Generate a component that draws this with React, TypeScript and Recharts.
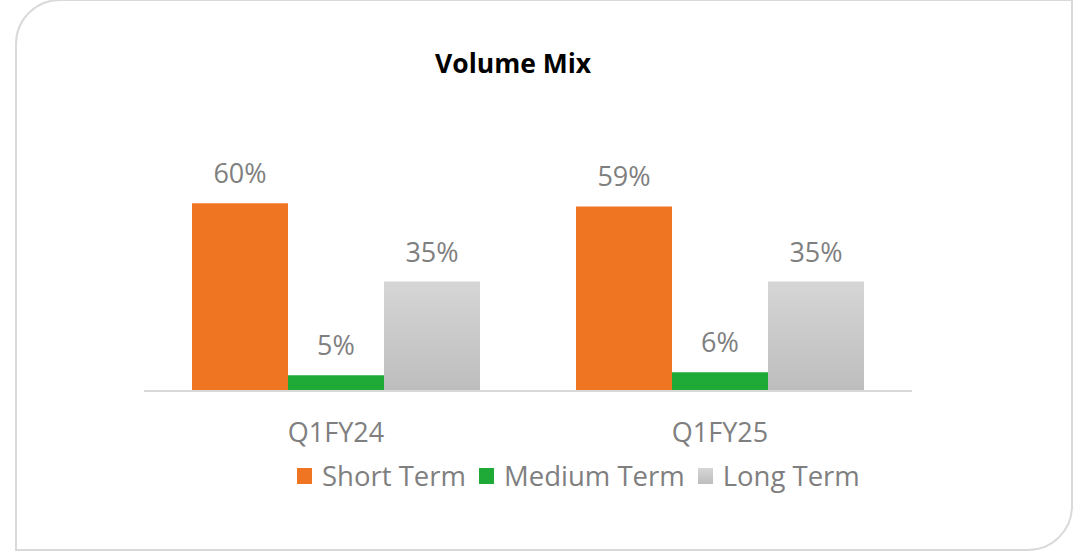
import { Bar, BarChart, LabelList, XAxis, YAxis } from "recharts";

const quarters = ["Q1FY24", "Q1FY25"];
const shortTerm = [60, 59];
const mediumTerm = [5, 6];
const longTerm = [35, 35];

const seriesNames = ["Short Term", "Medium Term", "Long Term"];

const chartData = quarters.map((q, i) => ({
  quarter: q,
  short: shortTerm[i],
  medium: mediumTerm[i],
  long: longTerm[i],
}));

const FONT = "'Open Sans', sans-serif";
const TEXT_GRAY = "#7f7f7f";

function VolumeLegend() {
  const swatches = [
    { name: seriesNames[0], bg: "#f07522" },
    { name: seriesNames[1], bg: "#1faa38" },
    { name: seriesNames[2], bg: "linear-gradient(#d6d6d6, #bdbdbd)" },
  ];
  return (
    <div style={{ display: "flex", alignItems: "center", fontFamily: FONT, fontSize: 27.5, color: TEXT_GRAY, whiteSpace: "nowrap" }}>
      {swatches.map((s) => (
        <span key={s.name} style={{ display: "inline-flex", alignItems: "center", marginRight: 13 }}>
          <span style={{ display: "inline-block", width: 15, height: 16, background: s.bg, marginRight: 10 }} />
          {s.name}
        </span>
      ))}
    </div>
  );
}

export default function App() {
  const pct = (v: number) => `${v}%`;
  const labelStyle = { fill: TEXT_GRAY, fontSize: 27, fontFamily: FONT };

  return (
    <div style={{ position: "fixed", left: 0, top: 0, width: 1079, height: 554, background: "#fff", overflow: "hidden" }}>
      <div
        style={{
          position: "absolute",
          left: 15,
          top: -1,
          width: 1058,
          height: 552,
          boxSizing: "border-box",
          border: "2px solid #d9d9d9",
          borderRadius: "45px 0 45px 0",
        }}
      />
      <div
        style={{
          position: "absolute",
          left: 435,
          top: 45,
          fontFamily: FONT,
          fontWeight: 700,
          fontSize: 26.5,
          color: "#000",
          whiteSpace: "nowrap",
        }}
      >
        Volume Mix
      </div>
      <div style={{ position: "absolute", left: 0, top: 0 }}>
        <BarChart
          width={1079}
          height={554}
          data={chartData}
          margin={{ top: 172, right: 167, bottom: 133, left: 144 }}
          barCategoryGap="12.5%"
          barGap={0}
        >
          <defs>
            <linearGradient id="longTermGradient" x1="0" y1="0" x2="0" y2="1">
              <stop offset="0%" stopColor="#d6d6d6" />
              <stop offset="100%" stopColor="#bdbdbd" />
            </linearGradient>
          </defs>
          <XAxis
            dataKey="quarter"
            height={30}
            tickLine={false}
            axisLine={{ stroke: "#d9d9d9", strokeWidth: 2 }}
            tick={{ fill: TEXT_GRAY, fontSize: 27, fontFamily: FONT }}
            tickMargin={26}
          />
          <YAxis hide domain={[0, 70]} />
          <Bar dataKey="short" name={seriesNames[0]} fill="#f07522" isAnimationActive={false}>
            <LabelList dataKey="short" position="top" offset={20} formatter={pct} style={labelStyle} />
          </Bar>
          <Bar dataKey="medium" name={seriesNames[1]} fill="#1faa38" isAnimationActive={false}>
            <LabelList dataKey="medium" position="top" offset={20} formatter={pct} style={labelStyle} />
          </Bar>
          <Bar dataKey="long" name={seriesNames[2]} fill="url(#longTermGradient)" isAnimationActive={false}>
            <LabelList dataKey="long" position="top" offset={20} formatter={pct} style={labelStyle} />
          </Bar>
        </BarChart>
      </div>
      <div style={{ position: "absolute", left: 297, top: 457 }}>
        <VolumeLegend />
      </div>
    </div>
  );
}
